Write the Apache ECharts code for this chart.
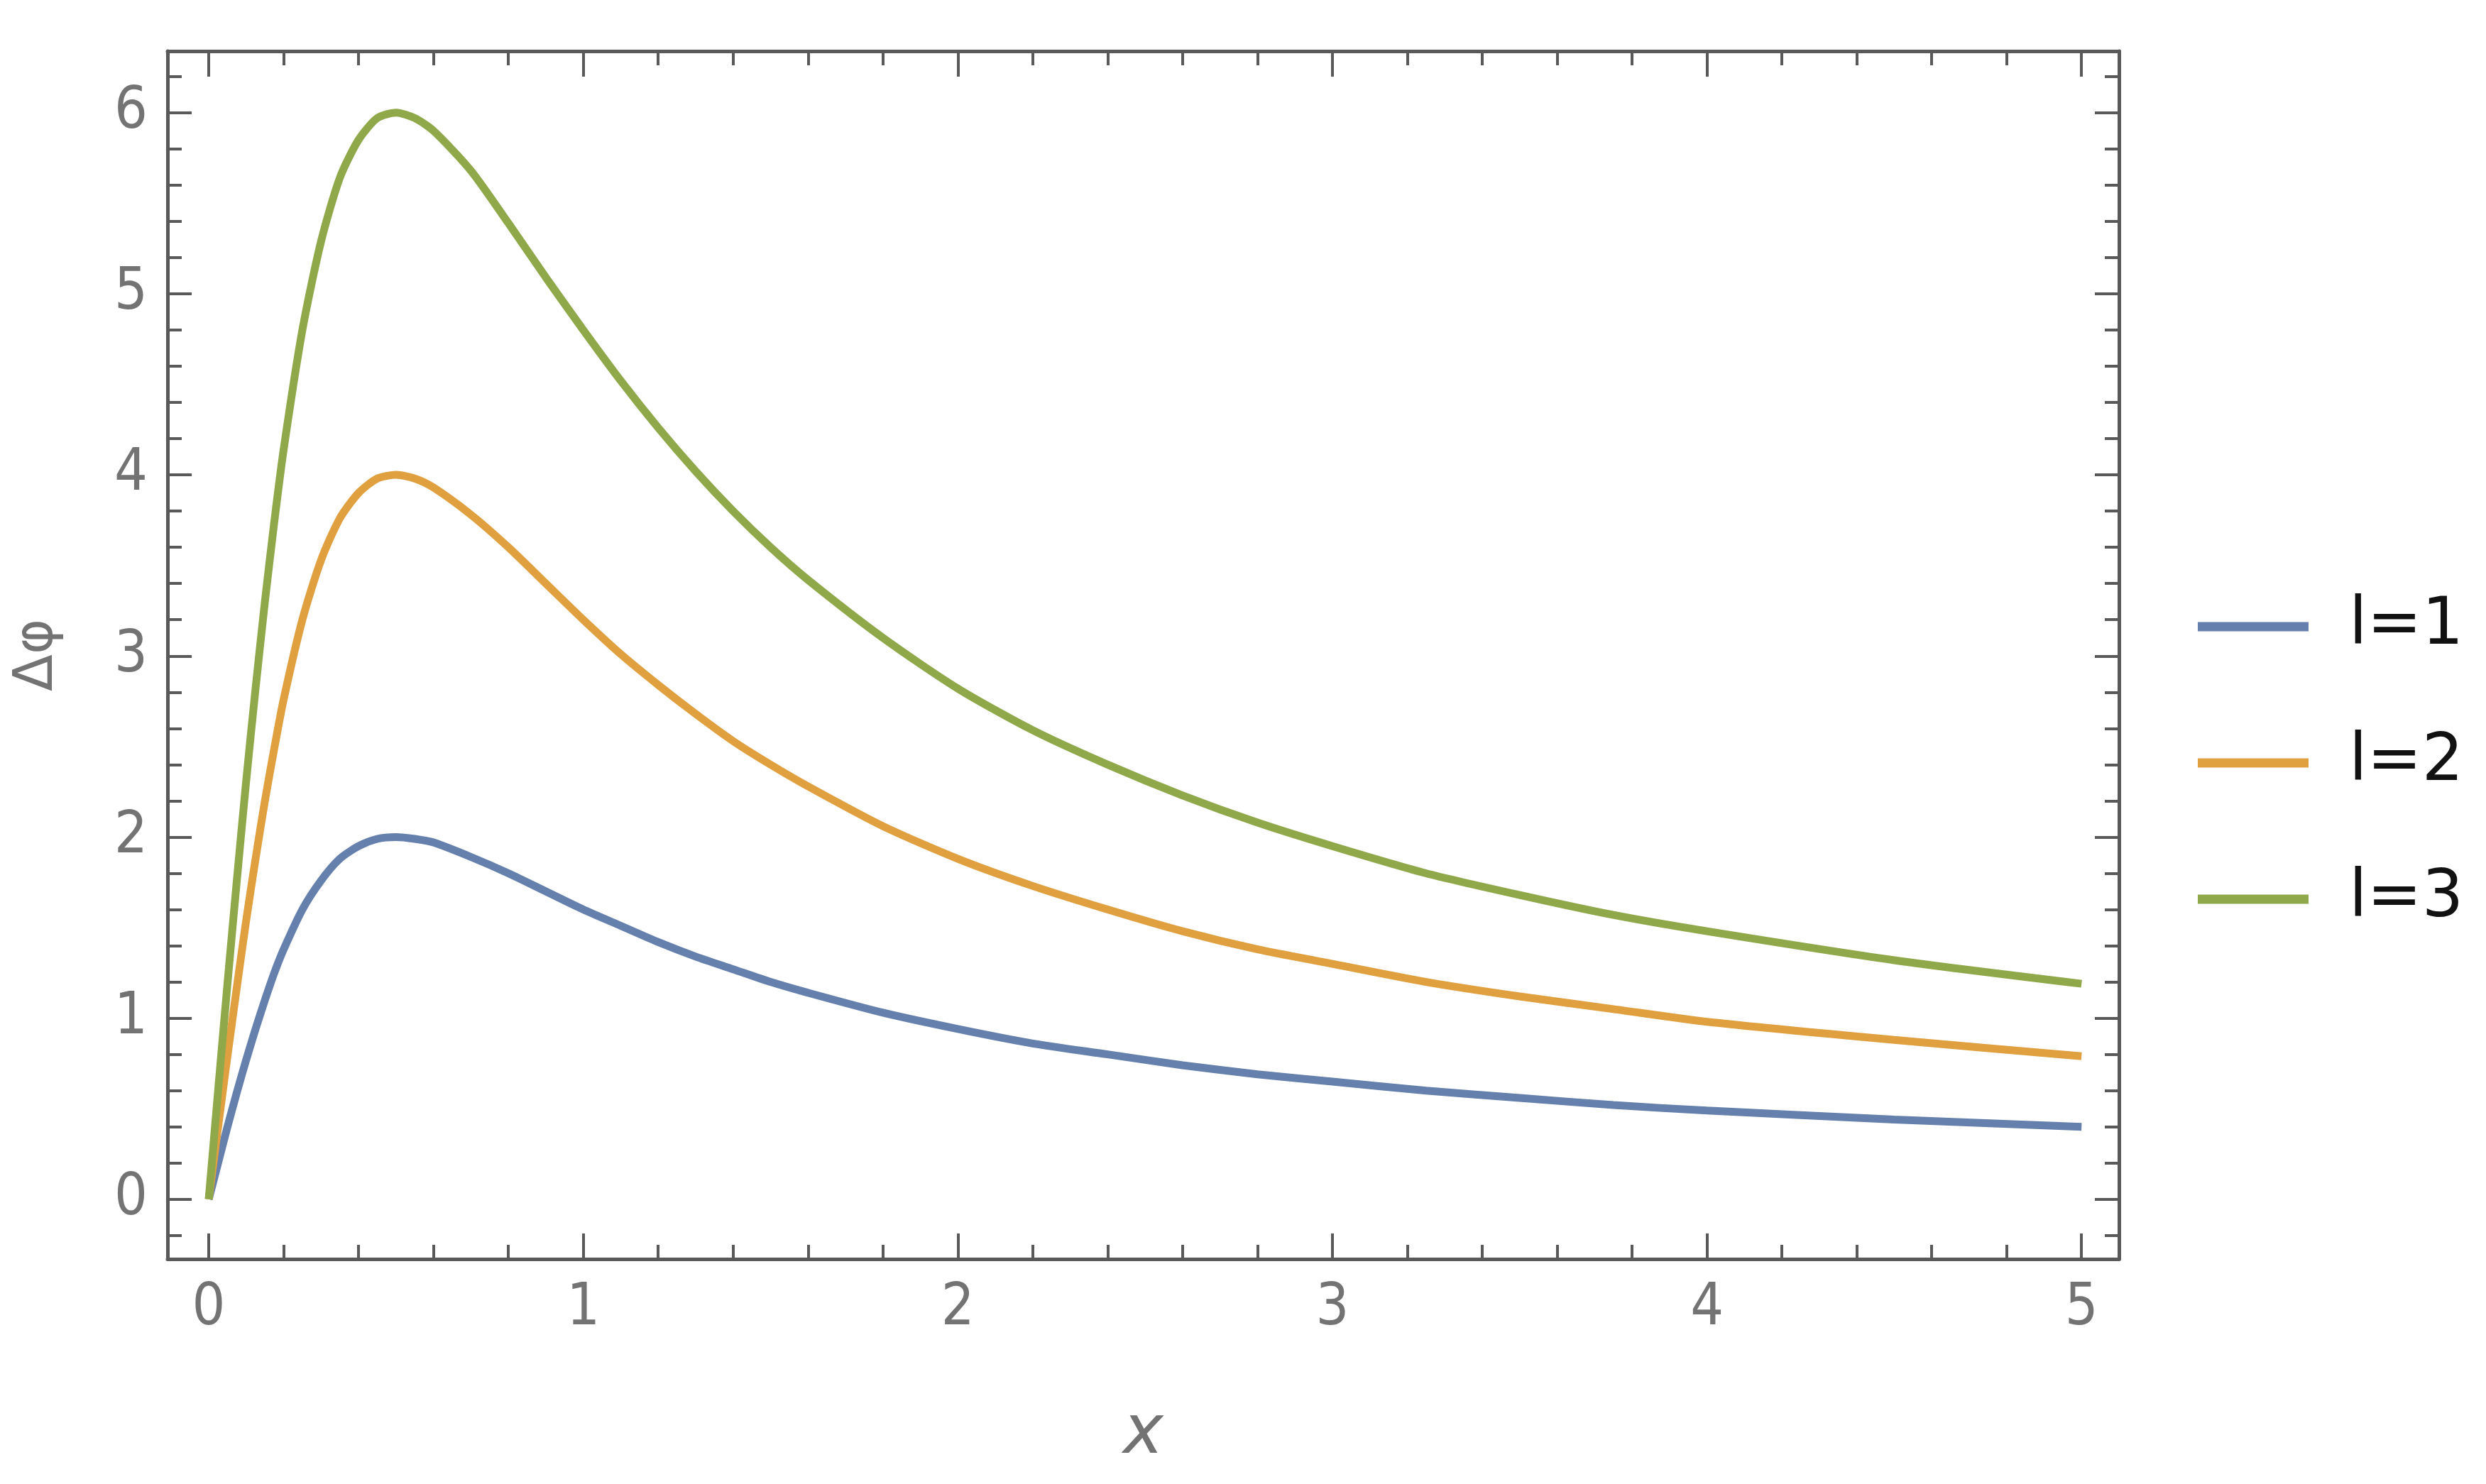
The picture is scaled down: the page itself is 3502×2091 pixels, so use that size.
<!DOCTYPE html>
<html><head><meta charset="utf-8">
<script src="https://cdn.jsdelivr.net/npm/echarts@6/dist/echarts.min.js"></script>
<style>html,body{margin:0;padding:0;background:#fff}#c{width:3502px;height:2091px}</style>
</head><body><div id="c"></div>
<script>
// ---- data ----
const xValues = [0, 0.025, 0.05, 0.075, 0.1, 0.125, 0.15, 0.175, 0.2, 0.25, 0.3, 0.35, 0.4, 0.45, 0.5, 0.55, 0.6, 0.7, 0.8, 0.9, 1.0, 1.1, 1.2, 1.3, 1.4, 1.5, 1.6, 1.8, 2.0, 2.2, 2.4, 2.6, 2.8, 3.0, 3.25, 3.5, 3.75, 4.0, 4.5, 5.0];
const l1 = [0, 0.20, 0.40, 0.59, 0.77, 0.94, 1.10, 1.25, 1.38, 1.60, 1.76, 1.88, 1.95, 1.99, 2.00, 1.99, 1.97, 1.89, 1.80, 1.70, 1.60, 1.51, 1.42, 1.34, 1.27, 1.20, 1.14, 1.03, 0.94, 0.86, 0.80, 0.74, 0.69, 0.65, 0.60, 0.56, 0.52, 0.49, 0.44, 0.40];
const l2 = [0, 0.40, 0.79, 1.17, 1.54, 1.88, 2.20, 2.49, 2.76, 3.20, 3.53, 3.76, 3.90, 3.98, 4.00, 3.98, 3.93, 3.78, 3.60, 3.40, 3.20, 3.01, 2.84, 2.68, 2.53, 2.40, 2.28, 2.06, 1.88, 1.73, 1.60, 1.48, 1.38, 1.30, 1.20, 1.12, 1.05, 0.98, 0.88, 0.79];
const l3 = [0, 0.60, 1.19, 1.76, 2.31, 2.82, 3.30, 3.74, 4.14, 4.80, 5.29, 5.64, 5.85, 5.97, 6.00, 5.97, 5.90, 5.68, 5.39, 5.09, 4.80, 4.52, 4.26, 4.02, 3.80, 3.60, 3.42, 3.10, 2.82, 2.59, 2.40, 2.23, 2.08, 1.95, 1.80, 1.68, 1.57, 1.48, 1.32, 1.19];
const seriesNames = ['l=1', 'l=2', 'l=3'];
const xTickLabels = [0, 1, 2, 3, 4, 5];
const yTickLabels = [0, 1, 2, 3, 4, 5, 6];
const xMinorTicks = [0.2,0.4,0.6,0.8,1.2,1.4,1.6,1.8,2.2,2.4,2.6,2.8,3.2,3.4,3.6,3.8,4.2,4.4,4.6,4.8];
const yMinorTicks = [-0.2,0.2,0.4,0.6,0.8,1.2,1.4,1.6,1.8,2.2,2.4,2.6,2.8,3.2,3.4,3.6,3.8,4.2,4.4,4.6,4.8,5.2,5.4,5.6,5.8,6.2];
const xTitle = 'x';
const yTitle = 'Δφ';

// ---- styling ----
const colors = ['#6580ad', '#e0a040', '#8fa84a'];
const frameColor = '#595959';
const labelColor = '#737373';
const labelFont = "'DejaVu Sans Condensed', 'Liberation Sans Narrow', 'DejaVu Sans', sans-serif";
const X_MIN = -0.11, X_MAX = 5.1, Y_MIN = -0.33, Y_MAX = 6.34;
const gridRect = { left: 236, right: 517, top: 72, bottom: 317 };

function xAxisCfg(gridIndex, position, ticks, len, showLine, labels, name) {
  const a = {
    type: 'value', gridIndex, position, min: X_MIN, max: X_MAX,
    splitLine: { show: false },
    axisLine: { show: showLine, onZero: false, lineStyle: { color: frameColor, width: 5 } },
    axisTick: { show: true, inside: true, length: len, customValues: ticks, lineStyle: { color: frameColor, width: 4 } },
    axisLabel: { show: !!labels }
  };
  if (labels) {
    a.axisLabel = { show: true, customValues: labels, margin: 30, color: labelColor, fontSize: 82, fontFamily: labelFont };
  }
  if (name) {
    a.name = name; a.nameLocation = 'middle'; a.nameGap = 200;
    a.nameTextStyle = { color: labelColor, fontSize: 96, fontStyle: 'italic', fontFamily: "'DejaVu Sans', sans-serif" };
  }
  return a;
}
function yAxisCfg(gridIndex, position, ticks, len, showLine, labels, name) {
  const a = {
    type: 'value', gridIndex, position, min: Y_MIN, max: Y_MAX,
    splitLine: { show: false },
    axisLine: { show: showLine, onZero: false, lineStyle: { color: frameColor, width: 5 } },
    axisTick: { show: true, inside: true, length: len, customValues: ticks, lineStyle: { color: frameColor, width: 4 } },
    axisLabel: { show: !!labels }
  };
  if (labels) {
    a.axisLabel = { show: true, customValues: labels, margin: 28, color: labelColor, fontSize: 82, fontFamily: labelFont };
  }
  if (name) {
    a.name = name; a.nameLocation = 'middle'; a.nameGap = 145;
    a.nameTextStyle = { color: labelColor, fontSize: 76, fontFamily: "'DejaVu Sans', sans-serif" };
  }
  return a;
}

const series = [l1, l2, l3].map((ys, i) => ({
  name: seriesNames[i], type: 'line', xAxisIndex: 0, yAxisIndex: 0,
  data: xValues.map((x, k) => [x, ys[k]]),
  showSymbol: false, symbol: 'none', smooth: 0.25,
  lineStyle: { color: colors[i], width: 11 }, itemStyle: { color: colors[i] },
  z: 3 + i
}));

const chart = echarts.init(document.getElementById('c'), null, { renderer: 'canvas' });
chart.setOption({
  backgroundColor: '#ffffff',
  animation: false,
  grid: [Object.assign({}, gridRect), Object.assign({}, gridRect)],
  xAxis: [
    xAxisCfg(0, 'bottom', xTickLabels, 36, true, xTickLabels, xTitle),
    xAxisCfg(0, 'top', xTickLabels, 36, true, null, null),
    xAxisCfg(1, 'bottom', xMinorTicks, 20, false, null, null),
    xAxisCfg(1, 'top', xMinorTicks, 20, false, null, null)
  ],
  yAxis: [
    yAxisCfg(0, 'left', yTickLabels, 34, true, yTickLabels, yTitle),
    yAxisCfg(0, 'right', yTickLabels, 34, true, null, null),
    yAxisCfg(1, 'left', yMinorTicks, 20, false, null, null),
    yAxisCfg(1, 'right', yMinorTicks, 20, false, null, null)
  ],
  legend: {
    orient: 'vertical', left: 3091, top: 828,
    icon: 'rect', itemWidth: 156, itemHeight: 13, itemGap: 92,
    textStyle: { color: '#111', fontSize: 92, lineHeight: 100, fontFamily: "'DejaVu Sans', sans-serif", padding: [0, 0, 0, 52] },
    data: seriesNames
  },
  series
});
</script></body></html>
